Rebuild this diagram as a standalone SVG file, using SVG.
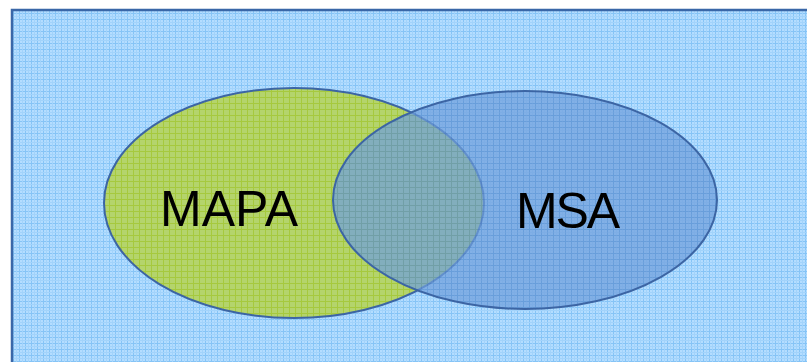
<svg xmlns="http://www.w3.org/2000/svg" width="807" height="362" viewBox="0 0 807 362">
  <defs>
    <!-- plaid texture for the backdrop and the circles -->
    <pattern id="plaid" width="12" height="12" patternUnits="userSpaceOnUse">
      <rect width="12" height="12" fill="#b4ddff"/>
      <path d="M0 1.5H12M0 7.5H12M1.5 0V12M7.5 0V12" stroke="#86c4f6" stroke-width="1"/>
      <path d="M0 4.5H12M4.5 0V12M0 10.5H12M10.5 0V12" stroke="#a2d3fb" stroke-width="1"/>
    </pattern>
    <pattern id="plaidGreen" width="12" height="12" patternUnits="userSpaceOnUse">
      <rect width="12" height="12" fill="#b4d46c"/>
      <path d="M0 1.5H12M0 7.5H12M1.5 0V12M7.5 0V12" stroke="#a6c93e" stroke-width="1"/>
    </pattern>
    <pattern id="plaidBlue" width="12" height="12" patternUnits="userSpaceOnUse">
      <rect width="12" height="12" fill="#6f9fdc"/>
      <path d="M0 1.5H12M0 7.5H12M1.5 0V12M7.5 0V12" stroke="#5d8fd0" stroke-width="1"/>
    </pattern>
    <style>
      .ring { stroke: #3c65a4; stroke-width: 2; }
      .label { font-family: "Liberation Sans", Arial, sans-serif; font-size: 50px; fill: #000; }
    </style>
  </defs>

  <rect x="12" y="10" width="800" height="360" fill="url(#plaid)" stroke="#3a67a8" stroke-width="2.5"/>

  <g id="mapa">
    <ellipse cx="294" cy="203" rx="190" ry="115" fill="url(#plaidGreen)" class="ring"/>
    <text class="label" x="160" y="226">MAPA</text>
  </g>

  <g id="msa">
    <ellipse cx="525" cy="200" rx="192" ry="109" fill="url(#plaidBlue)" fill-opacity="0.72" class="ring"/>
    <text class="label" x="516" y="228" textLength="104">MSA</text>
  </g>
</svg>
